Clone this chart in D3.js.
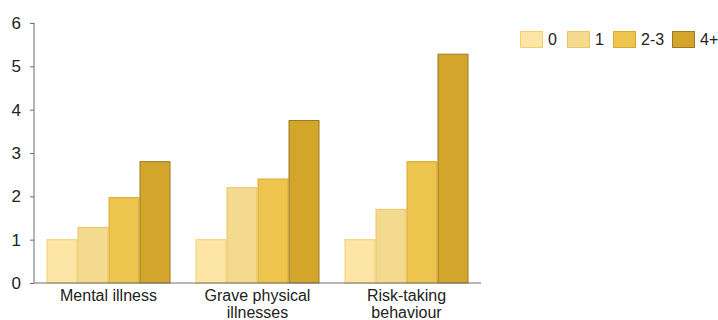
<!DOCTYPE html>
<html>
<head>
<meta charset="utf-8">
<script src="https://cdn.jsdelivr.net/npm/d3@7"></script>
<style>
  body { margin: 0; background: #fff; }
  svg { display: block; font-family: "Liberation Sans", Arial, sans-serif; }
</style>
</head>
<body>
<svg id="chart" width="718" height="320"></svg>
<script>
// Categories (each may wrap onto two lines)
const categories = [["Mental illness"], ["Grave physical", "illnesses"], ["Risk-taking", "behaviour"]];
const seriesNames = ["0", "1", "2-3", "4+"];
const values0   = [1, 1, 1];
const values1   = [1.28, 2.2, 1.7];
const values23  = [1.97, 2.4, 2.8];
const values4p  = [2.8, 3.75, 5.28];
const yTicks = [0, 1, 2, 3, 4, 5, 6];

const seriesValues = [values0, values1, values23, values4p];
const fills   = ["#fde5a6", "#f3da8e", "#edc44d", "#d3a52b"];
const strokes = ["#f3cf6e", "#e9c665", "#d9ab2e", "#9c7a1e"];

const svg = d3.select("#chart");
const margin = { left: 34, right: 237, top: 23, bottom: 37 };
const W = 718, H = 320;

const x0 = d3.scaleBand()
  .domain(d3.range(categories.length))
  .range([margin.left, W - margin.right])
  .paddingInner(25 / 149)
  .paddingOuter(12.5 / 149);
const x1 = d3.scaleBand()
  .domain(d3.range(seriesNames.length))
  .range([0, x0.bandwidth()]);
const y = d3.scaleLinear().domain([0, 6]).range([H - margin.bottom, margin.top]);

// Bars
categories.forEach((c, i) => {
  const g = svg.append("g").attr("transform", `translate(${x0(i)},0)`);
  seriesValues.forEach((vals, s) => {
    g.append("rect")
      .attr("x", x1(s) + 0.5)
      .attr("y", y(vals[i]))
      .attr("width", x1.bandwidth() - 1)
      .attr("height", y(0) - y(vals[i]))
      .attr("fill", fills[s])
      .attr("stroke", strokes[s])
      .attr("stroke-width", 1);
  });
});

// Y axis
const yAxis = svg.append("g")
  .attr("transform", `translate(${margin.left},0)`)
  .call(d3.axisLeft(y).tickValues(yTicks).tickFormat(d3.format("d")).tickSize(4).tickPadding(9));
yAxis.select(".domain").attr("stroke", "#6f6f6f").attr("d", `M-0.5,${y(6)}H0V${y(0)}`);
yAxis.selectAll(".tick line").attr("stroke", "#6f6f6f");
yAxis.selectAll(".tick text").attr("font-size", 17).attr("fill", "#222")
  .attr("font-family", "'Liberation Sans', Arial, sans-serif");

// Baseline
svg.append("line")
  .attr("x1", margin.left).attr("x2", W - margin.right)
  .attr("y1", y(0)).attr("y2", y(0))
  .attr("stroke", "#6f6f6f").attr("stroke-width", 1);

// Category labels
categories.forEach((lines, i) => {
  const t = svg.append("text")
    .attr("x", x0(i) + x0.bandwidth() / 2)
    .attr("y", y(0) + 18)
    .attr("text-anchor", "middle")
    .attr("font-size", 16)
    .attr("fill", "#222");
  lines.forEach((ln, k) => {
    t.append("tspan").attr("x", x0(i) + x0.bandwidth() / 2).attr("dy", k === 0 ? 0 : 17).text(ln);
  });
});

// Legend
const legendX = [520, 567, 613, 672];
seriesNames.forEach((name, s) => {
  svg.append("rect")
    .attr("x", legendX[s] + 0.5).attr("y", 31.5)
    .attr("width", 22).attr("height", 16)
    .attr("fill", fills[s]).attr("stroke", strokes[s]);
  svg.append("text")
    .attr("x", legendX[s] + 28).attr("y", 45)
    .attr("font-size", 16).attr("fill", "#222")
    .text(name);
});
</script>
</body>
</html>
